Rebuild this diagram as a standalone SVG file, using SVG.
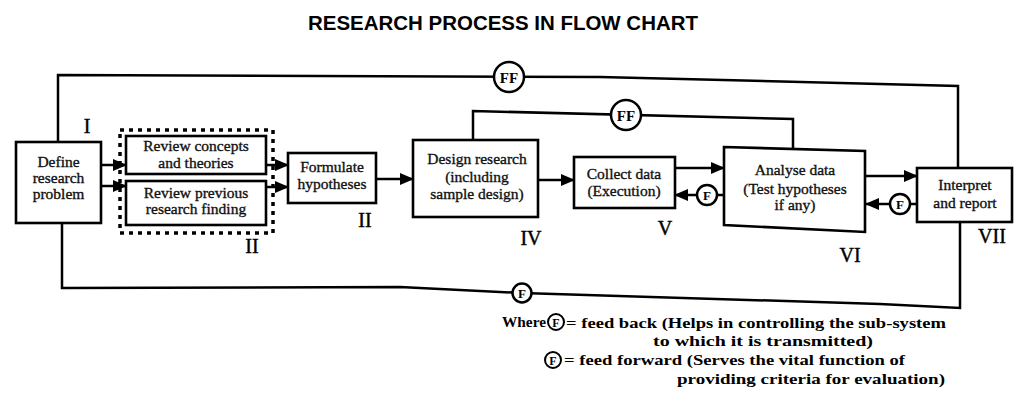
<svg xmlns="http://www.w3.org/2000/svg" width="1016" height="418" viewBox="0 0 1016 418">
<defs>
<marker id="ah" markerWidth="14" markerHeight="12" refX="13" refY="6" orient="auto" markerUnits="userSpaceOnUse"><path d="M0,0 L14,6 L0,12 z" fill="#000"/></marker>
<style>
.box{fill:#fff;stroke:#000;stroke-width:2.6}
.ln{fill:none;stroke:#000;stroke-width:2.5}
.ar{fill:none;stroke:#000;stroke-width:2.5;marker-end:url(#ah)}
.t{font-family:"Liberation Serif","Times New Roman",serif;font-size:15.5px;fill:#111;stroke:#111;stroke-width:0.35;text-anchor:middle}
.num{font-family:"Liberation Serif","Times New Roman",serif;font-size:20px;fill:#000;stroke:#000;stroke-width:0.4;text-anchor:middle}
.cir{fill:#fff;stroke:#000;stroke-width:2.5}
.ct{font-family:"Liberation Serif","Times New Roman",serif;font-weight:bold;fill:#000;text-anchor:middle}
.lg{font-family:"Liberation Serif","Times New Roman",serif;font-weight:bold;font-size:15px;fill:#000}
</style>
</defs>
<rect width="1016" height="418" fill="#fff"/>
<text x="503" y="30" font-family="Liberation Sans, Arial, sans-serif" font-weight="bold" font-size="21" text-anchor="middle" textLength="390" lengthAdjust="spacingAndGlyphs">RESEARCH PROCESS IN FLOW CHART</text>

<g id="connectors">
<polyline class="ln" points="58,142 58,75 600,77 958,86 958,168"/>
<polyline class="ln" points="473,140 473,111 793,119 793,148"/>
<polyline class="ln" points="62,222 62,288 400,287 522,293 880,304 960,308 960,222"/>
<line class="ar" x1="101" y1="165" x2="126" y2="165"/>
<line class="ar" x1="101" y1="186" x2="126" y2="186"/>
<line class="ar" x1="266" y1="165" x2="288" y2="165"/>
<line class="ar" x1="266" y1="187" x2="288" y2="187"/>
<line class="ar" x1="376" y1="179" x2="413" y2="179"/>
<line class="ar" x1="538" y1="180" x2="574" y2="180"/>
<line class="ar" x1="675" y1="168" x2="724" y2="168"/>
<line class="ln" x1="724" y1="195" x2="717" y2="195"/>
<line class="ar" x1="697" y1="195" x2="675" y2="195"/>
<line class="ar" x1="865" y1="176" x2="917" y2="176"/>
<line class="ln" x1="917" y1="204" x2="910" y2="204"/>
<line class="ar" x1="890" y1="204" x2="866" y2="204"/>
<g id="ff-top"><circle class="cir" cx="509" cy="77" r="15"/><text class="ct" x="509" y="83" font-size="15">FF</text></g>
<g id="ff-inner"><circle class="cir" cx="626" cy="115" r="15"/><text class="ct" x="626" y="121" font-size="15">FF</text></g>
<g id="f-bottom"><circle class="cir" cx="522" cy="293" r="9.5"/><text class="ct" x="522" y="298" font-size="13">F</text></g>
<g id="f-collect"><circle class="cir" cx="707" cy="195" r="10"/><text class="ct" x="707" y="200" font-size="13">F</text></g>
<g id="f-analyse"><circle class="cir" cx="900" cy="204" r="10"/><text class="ct" x="900" y="209" font-size="13">F</text></g>
</g>

<g id="define">
<rect class="box" x="16" y="142" width="85" height="81"/>
<text class="t" x="58.5" y="167">Define</text>
<text class="t" x="58.5" y="183">research</text>
<text class="t" x="58.5" y="199">problem</text>
<text class="num" x="87" y="133">I</text>
</g>

<g id="review-group">
<rect x="120" y="130" width="153" height="103" fill="none" stroke="#000" stroke-width="3.5" stroke-dasharray="4 5"/>
<text class="num" x="252" y="253">II</text>
</g>

<g id="review-concepts">
<rect class="box" x="126" y="136" width="140" height="38"/>
<text class="t" x="196" y="151">Review concepts</text>
<text class="t" x="196" y="168">and theories</text>
</g>

<g id="review-previous">
<rect class="box" x="126" y="181" width="140" height="44"/>
<text class="t" x="196" y="198">Review previous</text>
<text class="t" x="196" y="214">research finding</text>
</g>

<g id="formulate">
<rect class="box" x="288" y="153" width="88" height="50"/>
<text class="t" x="332" y="172">Formulate</text>
<text class="t" x="332" y="189">hypotheses</text>
<text class="num" x="365" y="227">II</text>
</g>

<g id="design">
<rect class="box" x="413" y="140" width="125" height="77"/>
<text class="t" x="477" y="164">Design research</text>
<text class="t" x="477" y="182">(including</text>
<text class="t" x="477" y="199">sample design)</text>
<text class="num" x="531" y="245">IV</text>
</g>

<g id="collect">
<rect class="box" x="574" y="157" width="101" height="51"/>
<text class="t" x="624" y="179">Collect data</text>
<text class="t" x="624" y="196">(Execution)</text>
<text class="num" x="665" y="235">V</text>
</g>

<g id="analyse">
<polygon class="box" points="724,147 865,151 865,232 724,225"/>
<text class="t" x="795" y="175">Analyse data</text>
<text class="t" x="795" y="194">(Test hypotheses</text>
<text class="t" x="795" y="210">if any)</text>
<text class="num" x="850" y="262">VI</text>
</g>

<g id="interpret">
<rect class="box" x="917" y="168" width="95" height="54"/>
<text class="t" x="965" y="190">Interpret</text>
<text class="t" x="965" y="208">and report</text>
<text class="num" x="992" y="243" text-anchor="start">VII</text>
</g>

<g id="legend">
<text class="lg" x="502" y="327" textLength="44" lengthAdjust="spacingAndGlyphs">Where</text>
<circle cx="556" cy="322" r="8" fill="#fff" stroke="#000" stroke-width="2"/>
<text class="ct" x="556" y="326.5" font-size="12">F</text>
<text class="lg" x="566" y="328" textLength="380" lengthAdjust="spacingAndGlyphs">= feed back (Helps in controlling the sub-system</text>
<text class="lg" x="653" y="346" textLength="220" lengthAdjust="spacingAndGlyphs">to which it is transmitted)</text>
<circle cx="553" cy="360" r="8" fill="#fff" stroke="#000" stroke-width="2"/>
<text class="ct" x="553" y="364.5" font-size="12">F</text>
<text class="lg" x="564" y="365" textLength="341" lengthAdjust="spacingAndGlyphs">= feed forward (Serves the vital function of</text>
<text class="lg" x="677" y="384" textLength="268" lengthAdjust="spacingAndGlyphs">providing criteria for evaluation)</text>
</g>
</svg>
